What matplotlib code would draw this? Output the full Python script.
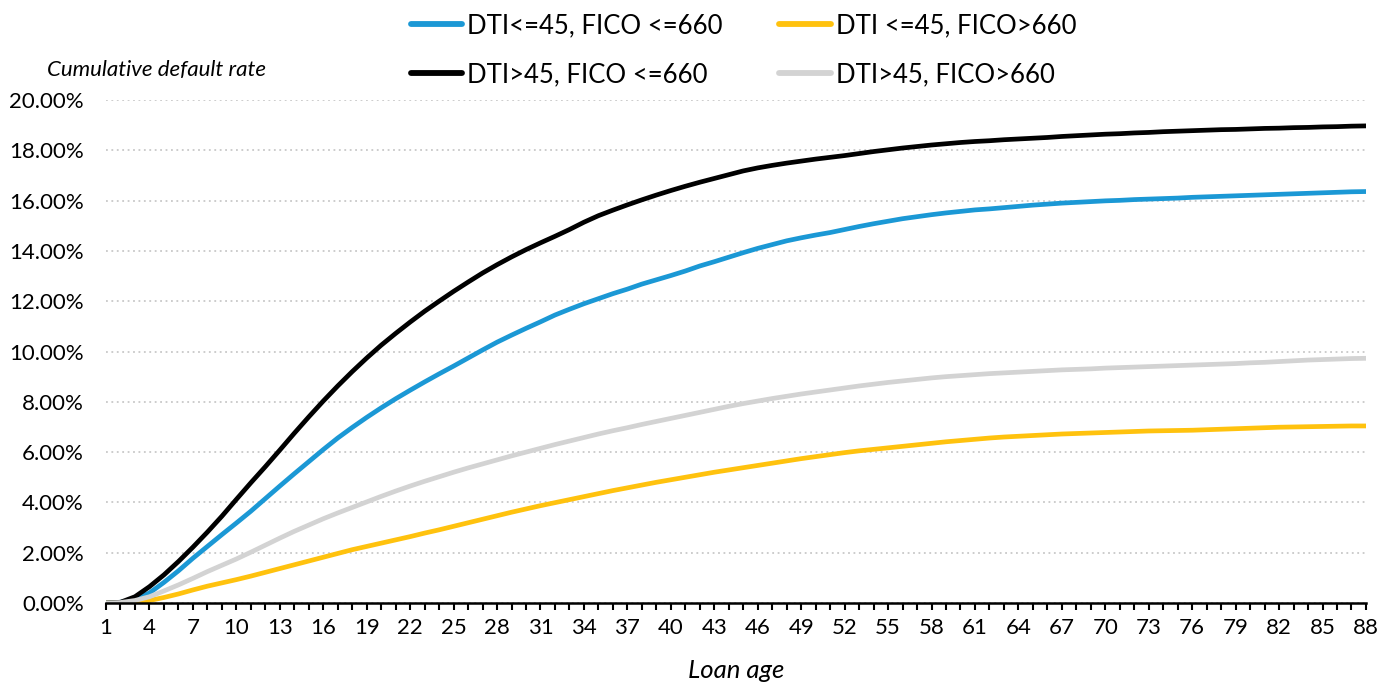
import numpy as np
import matplotlib
matplotlib.use("Agg")
import matplotlib.pyplot as plt
from matplotlib.ticker import FuncFormatter, MultipleLocator

plt.rcParams['font.family'] = ['Lato', 'DejaVu Sans']

# loan age 1..88
loan_age = list(range(1, 89))

# cumulative default rate, %
dti_low_fico_low = [
    0.00, 0.03, 0.15, 0.40, 0.82, 1.28, 1.78, 2.25, 2.72, 3.18,
    3.65, 4.15, 4.65, 5.14, 5.62, 6.10, 6.56, 6.98, 7.38, 7.76,
    8.12, 8.46, 8.79, 9.11, 9.42, 9.74, 10.06, 10.37, 10.65, 10.92,
    11.18, 11.45, 11.68, 11.90, 12.10, 12.30, 12.48, 12.68, 12.85, 13.02,
    13.20, 13.40, 13.57, 13.75, 13.93, 14.10, 14.25, 14.40, 14.52, 14.63,
    14.73, 14.85, 14.97, 15.08, 15.18, 15.28, 15.36, 15.44, 15.51, 15.57,
    15.63, 15.67, 15.72, 15.77, 15.82, 15.86, 15.90, 15.93, 15.96, 15.99,
    16.01, 16.04, 16.06, 16.08, 16.10, 16.13, 16.15, 16.17, 16.19, 16.21,
    16.23, 16.25, 16.27, 16.29, 16.31, 16.33, 16.35, 16.36,
]
dti_low_fico_high = [
    0.00, 0.01, 0.04, 0.10, 0.22, 0.36, 0.52, 0.67, 0.80, 0.93,
    1.07, 1.22, 1.37, 1.52, 1.67, 1.82, 1.97, 2.12, 2.25, 2.38,
    2.51, 2.64, 2.78, 2.91, 3.05, 3.19, 3.33, 3.47, 3.61, 3.74,
    3.87, 3.99, 4.11, 4.23, 4.35, 4.47, 4.58, 4.69, 4.80, 4.90,
    5.00, 5.10, 5.20, 5.29, 5.38, 5.47, 5.56, 5.65, 5.74, 5.82,
    5.90, 5.98, 6.05, 6.11, 6.17, 6.23, 6.29, 6.35, 6.41, 6.46,
    6.51, 6.56, 6.60, 6.63, 6.66, 6.69, 6.72, 6.74, 6.76, 6.78,
    6.80, 6.82, 6.84, 6.85, 6.86, 6.87, 6.89, 6.91, 6.93, 6.95,
    6.97, 6.99, 7.00, 7.01, 7.02, 7.03, 7.04, 7.04,
]
dti_high_fico_low = [
    0.00, 0.03, 0.25, 0.65, 1.12, 1.65, 2.22, 2.82, 3.45, 4.12,
    4.78, 5.42, 6.08, 6.75, 7.40, 8.03, 8.63, 9.20, 9.74, 10.25,
    10.72, 11.17, 11.60, 12.00, 12.39, 12.76, 13.12, 13.45, 13.76, 14.05,
    14.32, 14.58, 14.85, 15.14, 15.40, 15.62, 15.83, 16.03, 16.22, 16.40,
    16.57, 16.73, 16.88, 17.03, 17.18, 17.30, 17.40, 17.49, 17.57, 17.65,
    17.72, 17.79, 17.87, 17.95, 18.02, 18.09, 18.15, 18.21, 18.26, 18.31,
    18.35, 18.38, 18.42, 18.45, 18.48, 18.51, 18.55, 18.58, 18.61, 18.64,
    18.66, 18.69, 18.71, 18.74, 18.76, 18.78, 18.80, 18.82, 18.83, 18.85,
    18.87, 18.88, 18.90, 18.91, 18.93, 18.94, 18.96, 18.97,
]
dti_high_fico_high = [
    0.00, 0.02, 0.10, 0.25, 0.48, 0.72, 0.98, 1.25, 1.50, 1.75,
    2.02, 2.30, 2.58, 2.85, 3.10, 3.35, 3.58, 3.80, 4.02, 4.24,
    4.45, 4.65, 4.84, 5.02, 5.20, 5.37, 5.53, 5.69, 5.85, 6.00,
    6.15, 6.30, 6.44, 6.58, 6.72, 6.85, 6.97, 7.10, 7.22, 7.34,
    7.46, 7.58, 7.70, 7.82, 7.93, 8.03, 8.13, 8.22, 8.31, 8.39,
    8.47, 8.55, 8.63, 8.70, 8.77, 8.83, 8.89, 8.95, 9.00, 9.04,
    9.08, 9.12, 9.15, 9.18, 9.21, 9.24, 9.27, 9.29, 9.31, 9.34,
    9.36, 9.38, 9.40, 9.42, 9.44, 9.46, 9.48, 9.50, 9.52, 9.55,
    9.57, 9.60, 9.63, 9.66, 9.68, 9.70, 9.72, 9.73,
]

labels = ['DTI<=45, FICO <=660', 'DTI <=45, FICO>660',
          'DTI>45, FICO <=660', 'DTI>45, FICO>660']
colors = ['#1b98d5', '#ffc20e', '#000000', '#d3d3d3']
series = [dti_low_fico_low, dti_low_fico_high, dti_high_fico_low, dti_high_fico_high]

fig = plt.figure(figsize=(13.93, 6.83), dpi=100)
ax = fig.add_axes([0.0761, 0.1171, 0.9045, 0.7365])

handles = []
for vals, col, lab in zip(series, colors, labels):
    h, = ax.plot(loan_age, np.array(vals) / 100, color=col, lw=3.4,
                 solid_capstyle='round', label=lab)
    handles.append(h)

ax.set_xlim(1, 88)
ax.set_ylim(0, 0.20)
ax.yaxis.set_major_locator(MultipleLocator(0.02))
ax.yaxis.set_major_formatter(FuncFormatter(lambda v, p: f"{v*100:.2f}%"))
ax.set_xticks(loan_age, minor=True)
ax.set_xticks(loan_age[::3])

ax.grid(axis='y', color='#c8c8c8', lw=1.3, linestyle=(0, (1, 2)))
ax.set_axisbelow(True)
for s in ['top', 'right', 'left']:
    ax.spines[s].set_visible(False)
ax.spines['bottom'].set_linewidth(1.8)

ax.tick_params(axis='y', length=0, pad=16, labelsize=16)
ax.tick_params(axis='x', which='both', direction='out', length=5, width=1.5,
               pad=6, labelsize=16)

ax.set_xlabel('Loan age', fontsize=18.5, style='italic', labelpad=15)
fig.text(47 / 1393, 1 - 70 / 683, 'Cumulative default rate', fontsize=16,
         style='italic', ha='left', va='center')

order = [0, 2, 1, 3]
leg = fig.legend([handles[i] for i in order], [labels[i] for i in order], ncol=2,
                 loc='upper left', bbox_to_anchor=(398 / 1393, 1.0), frameon=False,
                 fontsize=18.5, handlelength=2.0, handletextpad=0.2,
                 columnspacing=2.2, labelspacing=0.95, borderaxespad=0.1)
for lh in leg.legend_handles:
    lh.set_linewidth(4.2)

fig.savefig('out.png', dpi=100)
